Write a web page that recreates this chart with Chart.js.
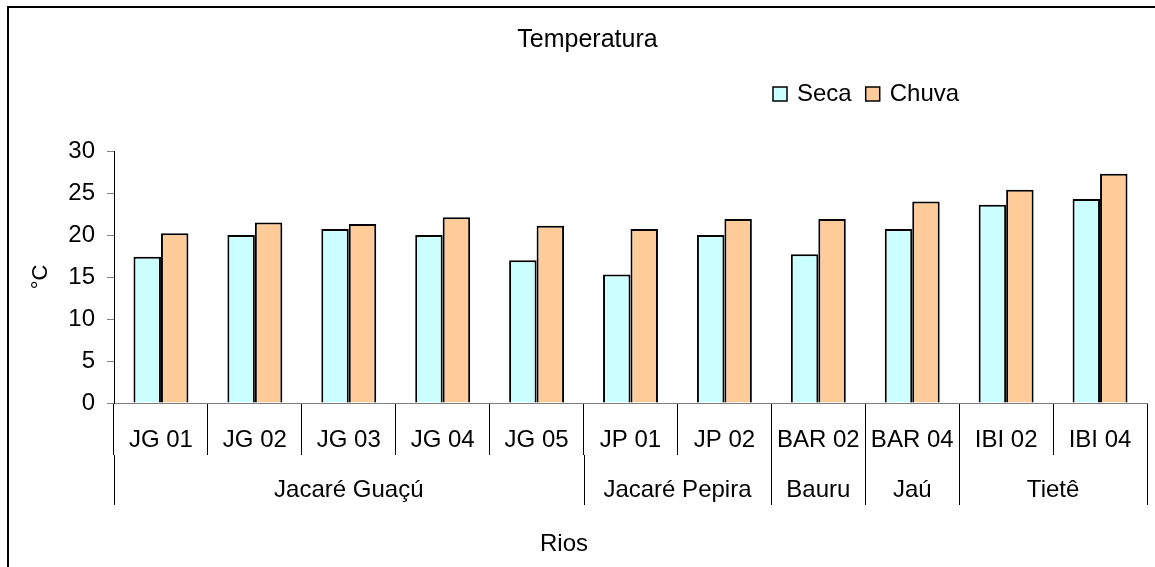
<!DOCTYPE html>
<html>
<head>
<meta charset="utf-8">
<script src="https://cdn.jsdelivr.net/npm/chart.js@4/dist/chart.umd.min.js"></script>
<style>
  html, body { margin: 0; padding: 0; background: #fff; }
  canvas { display: block; }
</style>
</head>
<body>
<canvas id="c" width="1155" height="567"></canvas>
<script>
const categories = ['JG 01', 'JG 02', 'JG 03', 'JG 04', 'JG 05', 'JP 01', 'JP 02', 'BAR 02', 'BAR 04', 'IBI 02', 'IBI 04'];
const seca  = [17.4, 20.0, 20.7, 20.0, 17.0, 15.3, 20.0, 17.7, 20.7, 23.6, 24.3];
const chuva = [20.2, 21.5, 21.3, 22.1, 21.1, 20.7, 21.9, 21.9, 24.0, 25.4, 27.3];
const groupNames = ['Jacaré Guaçú', 'Jacaré Pepira', 'Bauru', 'Jaú', 'Tietê'];
const groupSizes = [5, 2, 1, 1, 2];
const yTicks = [0, 5, 10, 15, 20, 25, 30];

const FONT = "'Liberation Sans', Arial, sans-serif";
Chart.defaults.font.family = FONT;
Chart.defaults.color = '#000';

const extras = {
  id: 'extras',
  beforeDraw(chart) {
    const ctx = chart.ctx;
    ctx.save();
    ctx.fillStyle = '#fff';
    ctx.fillRect(0, 0, chart.width, chart.height);
    ctx.strokeStyle = '#000';
    ctx.lineWidth = 2;
    ctx.beginPath();
    ctx.moveTo(8, chart.height);
    ctx.lineTo(8, 7);
    ctx.lineTo(chart.width, 7);
    ctx.stroke();
    ctx.restore();
  },
  afterDraw(chart) {
    const ctx = chart.ctx;
    const x = chart.scales.x;
    const area = chart.chartArea;
    ctx.save();
    ctx.strokeStyle = '#000';
    ctx.lineWidth = 1;
    ctx.font = '24px ' + FONT;
    ctx.fillStyle = '#000';
    ctx.textAlign = 'center';
    ctx.textBaseline = 'middle';
    let start = 0;
    const bounds = [x.getPixelForValue(-0.5)];
    groupSizes.forEach((n, gi) => {
      const l = x.getPixelForValue(start - 0.5);
      const r = x.getPixelForValue(start + n - 0.5);
      bounds.push(r);
      ctx.fillText(groupNames[gi], (l + r) / 2, 490);
      start += n;
    });
    bounds.forEach(b => {
      const px = Math.round(b) + 0.5;
      ctx.beginPath();
      ctx.moveTo(px, area.bottom + 52);
      ctx.lineTo(px, area.bottom + 102);
      ctx.stroke();
    });
    ctx.fillText('Rios', 564, 544);
    // legend
    ctx.font = '24px ' + FONT;
    ctx.textAlign = 'left';
    let lx = 773;
    chart.data.datasets.forEach(ds => {
      ctx.fillStyle = ds.backgroundColor;
      ctx.fillRect(lx, 87, 14, 14);
      ctx.strokeStyle = '#000';
      ctx.lineWidth = 1.5;
      ctx.strokeRect(lx, 87, 14, 14);
      ctx.fillStyle = '#000';
      ctx.fillText(ds.label, lx + 24, 94);
      lx += 24 + ctx.measureText(ds.label).width + 14;
    });
    ctx.restore();
  }
};

new Chart(document.getElementById('c'), {
  type: 'bar',
  data: {
    labels: categories,
    datasets: [
      { label: 'Seca', data: seca, backgroundColor: '#CCFFFF', borderColor: '#000', borderWidth: 2 },
      { label: 'Chuva', data: chuva, backgroundColor: '#FFCC99', borderColor: '#000', borderWidth: 2 }
    ]
  },
  options: {
    responsive: false,
    animation: false,
    devicePixelRatio: 1,
    layout: { padding: { left: 28, right: 8, top: 0, bottom: 0 } },
    datasets: { bar: { categoryPercentage: 0.585, barPercentage: 1.0 } },
    plugins: {
      legend: { display: false },
      tooltip: { enabled: false },
      title: {
        display: true,
        text: 'Temperatura',
        color: '#000',
        font: { size: 25, weight: 'normal', lineHeight: 1.2 },
        padding: { top: 25, bottom: 96 }
      }
    },
    scales: {
      x: {
        grid: { drawOnChartArea: false, offset: true, tickLength: 52, tickColor: '#000', tickWidth: 1 },
        border: { color: '#808080', width: 1 },
        ticks: { font: { size: 24 }, color: '#000', padding: -29.4, maxRotation: 0, autoSkip: false },
        afterFit(s) { s.height = 164; }
      },
      y: {
        min: 0, max: 30,
        afterBuildTicks(s) { s.ticks = yTicks.map(v => ({ value: v })); },
        grid: { drawOnChartArea: false, tickLength: 7, tickColor: '#808080' },
        border: { color: '#000', width: 1 },
        ticks: { font: { size: 24 }, color: '#000', padding: 12 },
        title: { display: true, text: '°C', font: { size: 22, lineHeight: 1 }, color: '#000', padding: { top: 2, bottom: 0 } },
        afterFit(s) { s.width = 86; }
      }
    }
  },
  plugins: [extras]
});
</script>
</body>
</html>
